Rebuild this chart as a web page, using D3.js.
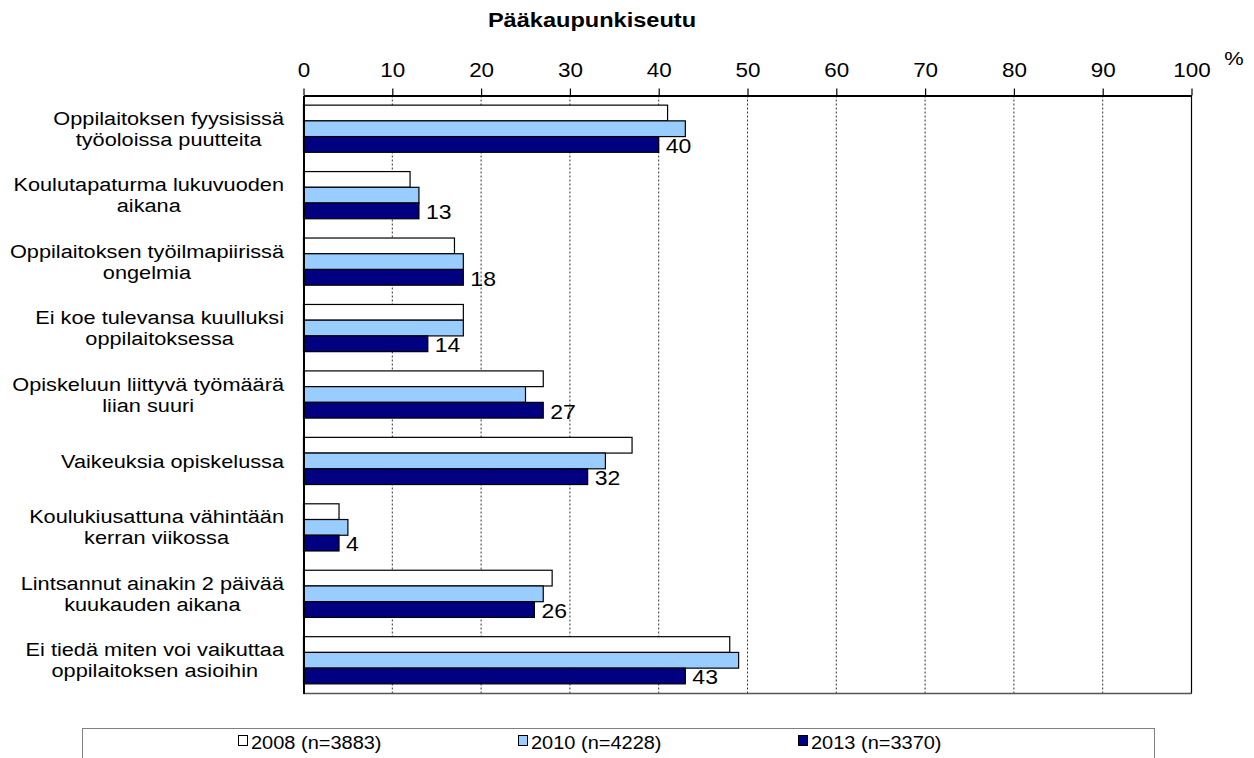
<!DOCTYPE html>
<html>
<head>
<meta charset="utf-8">
<script src="https://cdn.jsdelivr.net/npm/d3@7"></script>
<style>
  body { margin: 0; background: #fff; }
  svg { display: block; font-family: 'Liberation Sans', Arial, sans-serif; }
</style>
</head>
<body>
<div id="chart"></div>
<script>
'use strict'

const title = 'Pääkaupunkiseutu'
const categories = [
  'Oppilaitoksen fyysisissä\ntyöoloissa puutteita',
  'Koulutapaturma lukuvuoden\naikana',
  'Oppilaitoksen työilmapiirissä\nongelmia',
  'Ei koe tulevansa kuulluksi\noppilaitoksessa',
  'Opiskeluun liittyvä työmäärä\nliian suuri',
  'Vaikeuksia opiskelussa',
  'Koulukiusattuna vähintään\nkerran viikossa',
  'Lintsannut ainakin 2 päivää\nkuukauden aikana',
  'Ei tiedä miten voi vaikuttaa\noppilaitoksen asioihin'
]
const seriesNames = ['2008 (n=3883)', '2010 (n=4228)', '2013 (n=3370)']
const values2008 = [41, 12, 17, 18, 27, 37, 4, 28, 48]
const values2010 = [43, 13, 18, 18, 25, 34, 5, 27, 49]
const values2013 = [40, 13, 18, 14, 27, 32, 4, 26, 43]
const xTicks = [0, 10, 20, 30, 40, 50, 60, 70, 80, 90, 100]
const unitLabel = '%'

const colors = ['#ffffff', '#99ccff', '#000080']
const seriesValues = [values2008, values2010, values2013]

const width = 1254
const height = 758
const plot = { left: 303.5, right: 1191.5, top: 95.5, bottom: 693.5 }
const SX = 1.15 // the source text is a bit wider than tall

const svg = d3.select('#chart')
  .append('svg')
  .attr('width', width)
  .attr('height', height)

// stretch text horizontally around its anchor point
function stretch (sel, sx = SX) {
  sel.each(function () {
    const x = +this.getAttribute('x') || 0
    const y = +this.getAttribute('y') || 0
    d3.select(this)
      .attr('x', 0)
      .attr('y', 0)
      .attr('transform', `translate(${x}, ${y}) scale(${sx}, 1)`)
  })
}

const xScale = d3.scaleLinear().domain([0, 100]).range([plot.left, plot.right])
const y0 = d3.scaleBand()
  .domain(categories)
  .range([plot.top, plot.bottom])
  .paddingInner(0.29)
  .paddingOuter(0.145)
const y1 = d3.scaleBand()
  .domain(seriesNames)
  .range([0, y0.bandwidth()])

// title
svg.append('text')
  .attr('x', 592)
  .attr('y', 27)
  .attr('text-anchor', 'middle')
  .attr('font-size', 20.5)
  .attr('font-weight', 'bold')
  .text(title)
  .call(stretch)

// gridlines
svg.append('g')
  .selectAll('line')
  .data(xTicks.filter((d) => d > 0 && d < 100))
  .enter()
  .append('line')
  .attr('x1', (d) => xScale(d))
  .attr('x2', (d) => xScale(d))
  .attr('y1', plot.top)
  .attr('y2', plot.bottom)
  .attr('stroke', '#333')
  .attr('stroke-width', 1)
  .attr('stroke-dasharray', '2,2')

// plot frame
svg.append('line')
  .attr('x1', plot.left).attr('x2', plot.right)
  .attr('y1', plot.bottom).attr('y2', plot.bottom)
  .attr('stroke', '#555').attr('stroke-width', 1.5)
svg.append('line')
  .attr('x1', plot.right).attr('x2', plot.right)
  .attr('y1', plot.top).attr('y2', plot.bottom)
  .attr('stroke', '#000').attr('stroke-width', 1.2)

// bars
const groups = svg.append('g')
  .selectAll('g')
  .data(categories)
  .enter()
  .append('g')
  .attr('transform', (d) => `translate(0, ${y0(d)})`)

groups.selectAll('rect')
  .data((d, i) => seriesNames.map((s, k) => ({ s, k, v: seriesValues[k][i] })))
  .enter()
  .append('rect')
  .attr('x', xScale(0))
  .attr('y', (d) => y1(d.s))
  .attr('width', (d) => xScale(d.v) - xScale(0))
  .attr('height', y1.bandwidth())
  .attr('fill', (d) => colors[d.k])
  .attr('stroke', '#000')
  .attr('stroke-width', 1.2)

// value labels for the last series
groups.append('text')
  .attr('x', (d, i) => xScale(values2013[i]) + 7)
  .attr('y', y1(seriesNames[2]) + y1.bandwidth() + 0.5)
  .attr('font-size', 20)
  .text((d, i) => values2013[i])
  .call(stretch)

// top axis
const xAxisG = svg.append('g')
  .attr('transform', `translate(0, ${plot.top})`)
  .call(d3.axisTop(xScale).tickValues(xTicks).tickSize(7).tickPadding(12).tickSizeOuter(0))
xAxisG.select('.domain').attr('stroke-width', 2)
xAxisG.selectAll('.tick line').attr('stroke-width', 1.2)
xAxisG.selectAll('text')
  .attr('font-size', 19.5)
  .attr('font-family', null)
  .attr('fill', '#000')
  .attr('dy', null)
  .attr('transform', `scale(${SX}, 1)`)

// left axis
svg.append('g')
  .attr('transform', `translate(${plot.left}, 0)`)
  .call(d3.axisLeft(y0).tickSize(0).tickFormat(''))
  .select('.domain')
  .attr('stroke-width', 2)

svg.append('text')
  .attr('x', 1234)
  .attr('y', 65)
  .attr('text-anchor', 'middle')
  .attr('font-size', 19)
  .text(unitLabel)
  .call(stretch)

// category labels, lines centred on each other, block right aligned
const labelG = svg.append('g')
categories.forEach((c) => {
  const lines = c.split('\n')
  const mid = y0(c) + y0.bandwidth() / 2
  const texts = lines.map((line, i) => labelG.append('text')
    .attr('font-size', 18.9)
    .attr('text-anchor', 'middle')
    .attr('y', mid + (i - (lines.length - 1) / 2) * 21 + 6.6)
    .text(line))
  const maxW = d3.max(texts, (t) => t.node().getComputedTextLength()) * SX
  texts.forEach((t) => t.attr('x', 284 - maxW / 2).call(stretch))
})

// legend
const legend = svg.append('g')
legend.append('rect')
  .attr('x', 82.5)
  .attr('y', 728.5)
  .attr('width', 1072)
  .attr('height', 60)
  .attr('fill', '#fff')
  .attr('stroke', '#808080')
  .attr('stroke-width', 1)

const items = legend.selectAll('g.item')
  .data(seriesNames)
  .enter()
  .append('g')
  .attr('class', 'item')
  .attr('transform', (d, i) => `translate(${238 + i * 280}, 0)`)
items.append('rect')
  .attr('x', 0.5)
  .attr('y', 735.5)
  .attr('width', 9)
  .attr('height', 10)
  .attr('fill', (d, i) => colors[i])
  .attr('stroke', '#000')
items.append('text')
  .attr('x', 13)
  .attr('y', 748.5)
  .attr('font-size', 18.5)
  .text((d) => d)
  .call(stretch, 1.08)
</script>
</body>
</html>
